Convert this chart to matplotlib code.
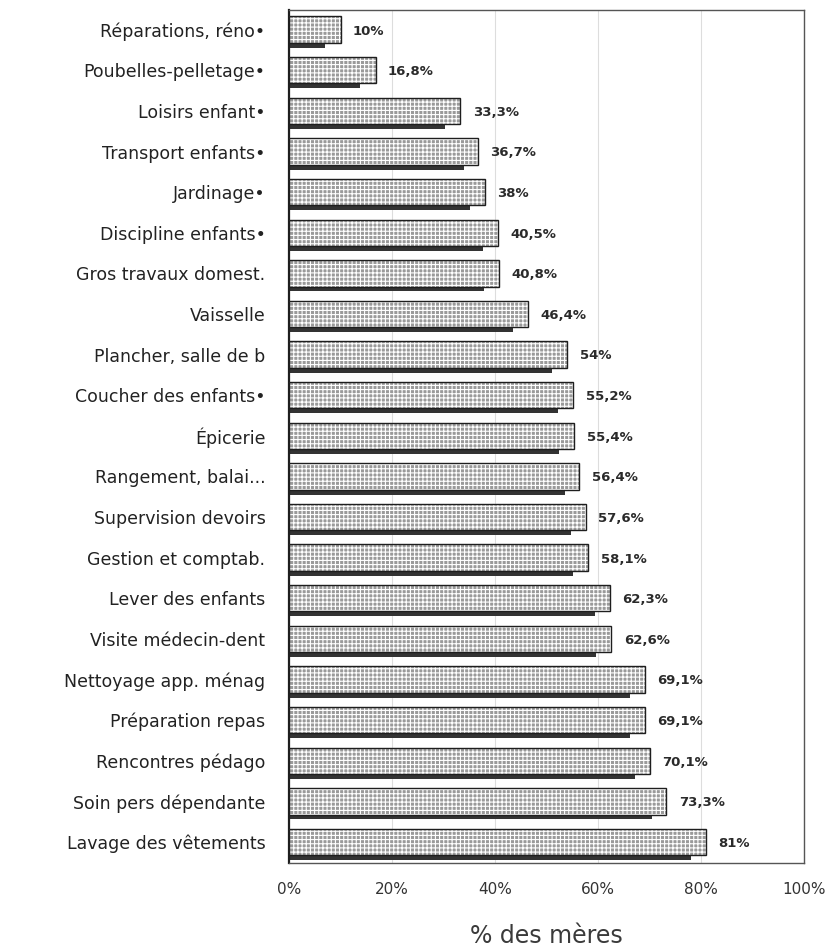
import matplotlib
matplotlib.use("Agg")
import matplotlib.pyplot as plt

categories = [
    "Réparations, réno•", "Poubelles-pelletage•", "Loisirs enfant•",
    "Transport enfants•", "Jardinage•", "Discipline enfants•",
    "Gros travaux domest.", "Vaisselle", "Plancher, salle de b",
    "Coucher des enfants•", "Épicerie", "Rangement, balai...",
    "Supervision devoirs", "Gestion et comptab.", "Lever des enfants",
    "Visite médecin-dent", "Nettoyage app. ménag", "Préparation repas",
    "Rencontres pédago", "Soin pers dépendante", "Lavage des vêtements",
]
values = [10, 16.8, 33.3, 36.7, 38, 40.5, 40.8, 46.4, 54, 55.2, 55.4,
          56.4, 57.6, 58.1, 62.3, 62.6, 69.1, 69.1, 70.1, 73.3, 81]
# dark (shadow) bars
shadow_values = [7.0, 13.8, 30.3, 33.9, 35.1, 37.6, 37.9, 43.5, 51.1, 52.3,
                 52.5, 53.5, 54.7, 55.2, 59.4, 59.7, 66.2, 66.2, 67.2, 70.4, 78.1]
xticks = [0, 20, 40, 60, 80, 100]
xtick_labels = ["0%", "20%", "40%", "60%", "80%", "100%"]
xlabel = "% des mères"

plt.rcParams['font.family'] = ['DejaVu Sans']
plt.rcParams['hatch.linewidth'] = 0.8

fig = plt.figure(figsize=(8.36, 9.5), dpi=100)
ax = fig.add_axes([0.3457, 0.0919, 0.6160, 0.8976])

ypos = list(range(len(categories)))
h = 0.65
shadow_off = 0.12

ax.barh([y + shadow_off for y in ypos], shadow_values, height=h,
        color='#333333', linewidth=0, zorder=2)
ax.barh(ypos, values, height=h, color='#9a9a9a', edgecolor='white',
        hatch='++++', linewidth=0, zorder=3)
ax.barh(ypos, values, height=h, fill=False, edgecolor='#1e1e1e',
        linewidth=1.0, zorder=4)

for y, v in zip(ypos, values):
    lab = (f"{v:g}".replace('.', ',')) + "%"
    ax.annotate(lab, xy=(v, y), xytext=(9, -1), textcoords='offset points',
                ha='left', va='center', fontsize=9.5, fontweight='bold',
                color='#2a2a2a', zorder=5)

ax.set_xlim(0, 100)
ax.set_ylim(20.51, -0.485)
ax.set_yticks(ypos)
ax.set_yticklabels(categories, fontsize=12.5, color='#222222')
ax.set_xticks(xticks)
ax.set_xticklabels(xtick_labels, fontsize=11, color='#333333')
ax.tick_params(axis='both', length=0)
ax.tick_params(axis='y', pad=17)
ax.tick_params(axis='x', pad=14)
ax.set_xlabel(xlabel, fontsize=17, color='#3a3a3a', labelpad=19)

ax.xaxis.grid(True, color='#dddddd', linewidth=0.8, zorder=0)
ax.set_axisbelow(True)
for side in ['top', 'right', 'bottom']:
    ax.spines[side].set_color('#555555')
    ax.spines[side].set_linewidth(1.0)
ax.spines['left'].set_color('#1e1e1e')
ax.spines['left'].set_linewidth(1.6)

fig.savefig("out.png", dpi=100, facecolor='white')
